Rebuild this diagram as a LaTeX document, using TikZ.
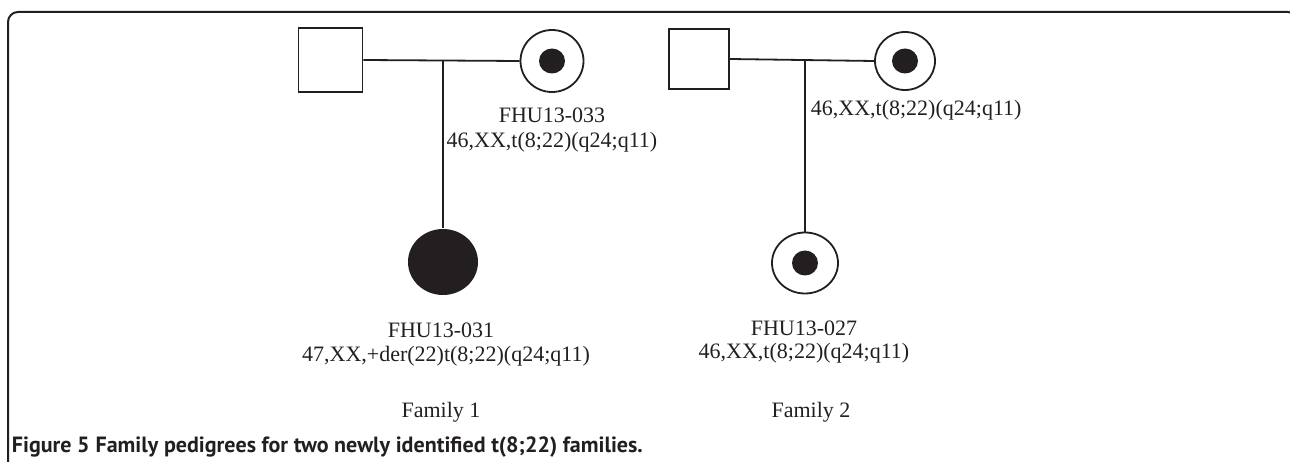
\documentclass[tikz,border=0pt]{standalone}
\usepackage{fontspec}
\setmainfont{Liberation Serif}
\newfontfamily\capfont{PT Sans}
\usetikzlibrary{shapes.geometric}
\definecolor{ink}{RGB}{35,31,32}
\begin{document}
\begin{tikzpicture}[x=1pt,y=-1pt,
  line width=1.8pt, draw=ink,
  male/.style={draw=ink, rectangle, minimum size=#1, inner sep=0pt},
  carrier/.style={draw=ink, ellipse, inner sep=0pt},
  dot/.style={fill=ink, ellipse, inner sep=0pt, minimum width=26pt, minimum height=25pt},
  affected/.style={fill=ink, ellipse, inner sep=0pt},
  lbl/.style={font=\fontsize{22}{26}\selectfont, text=ink, inner sep=0pt},
  framestyle/.style={draw=ink, line width=2pt, rounded corners=10pt}
]
\useasboundingbox (0,0) rectangle (1290,462);
% frame
\draw[framestyle] (8,470) -- (8,12) -- (1298,12) -- (1298,470);

% Family 1
\node[male=64pt] (f1) at (330.5,60) {};
\node[carrier, minimum width=63pt, minimum height=62pt] (m1) at (552,61) {};
\node[dot] (m1d) at (m1.center) {};
\coordinate (d1) at (443,61);
\node[affected, minimum width=70pt, minimum height=66pt] (c1) at (443,262) {};
\draw (f1.east) -- (m1.west);
\draw (d1) -- (c1.north);

\node[lbl] (m1n) at (552,115) {FHU13-033};
\node[lbl] (m1k) at (552,142) {46,XX,t(8;22)(q24;q11)};
\node[lbl] (c1n) at (441,330) {FHU13-031};
\node[lbl] (c1k) at (446,356) {47,XX,+der(22)t(8;22)(q24;q11)};
\node[lbl] (fam1) at (441,412) {Family 1};

% Family 2
\node[male=60pt] (f2) at (699,59) {};
\node[carrier, minimum width=60pt, minimum height=58pt] (m2) at (905,61) {};
\node[dot] (m2d) at (m2.center) {};
\coordinate (d2) at (805,60);
\node[carrier, minimum width=66pt, minimum height=61pt] (c2) at (805,263) {};
\node[dot] (c2d) at (c2.center) {};
\draw (f2.east) -- (m2.west);
\draw (d2) -- (c2.north);

\node[lbl, anchor=west] (m2k) at (810,110) {46,XX,t(8;22)(q24;q11)};
\node[lbl] (c2n) at (804,328) {FHU13-027};
\node[lbl] (c2k) at (804,353) {46,XX,t(8;22)(q24;q11)};
\node[lbl] (fam2) at (811,412) {Family 2};

% caption
\node[anchor=west, inner sep=0pt, text=ink, font=\capfont\fontsize{24}{28}\selectfont] (cap) at (11,447)
  {\resizebox{631pt}{!}{\textbf{Figure 5} \textbf{Family pedigrees for two newly identified t(8;22) families.}}};
\end{tikzpicture}
\end{document}
